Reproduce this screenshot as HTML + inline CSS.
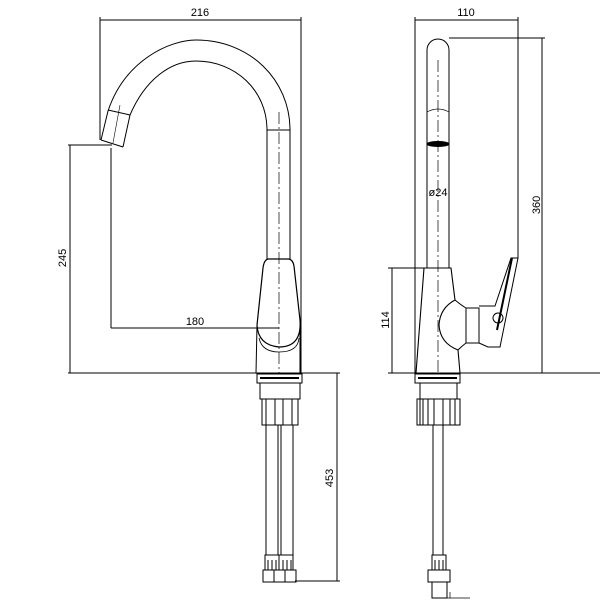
<!DOCTYPE html>
<html><head><style>body{margin:0;background:#fff}svg{display:block}</style></head><body>
<svg width="600" height="600" viewBox="0 0 600 600" xmlns="http://www.w3.org/2000/svg" font-family="Liberation Sans, sans-serif" font-size="11" fill="none" stroke="#000" stroke-width="1">
<line x1="68" y1="373" x2="340" y2="373"/>
<line x1="388" y1="373" x2="600" y2="373"/>
<!-- LEFT VIEW dims -->
<line x1="100" y1="20" x2="301" y2="20"/>
<line x1="100" y1="17" x2="100" y2="140"/>
<line x1="301" y1="17" x2="301" y2="373"/>
<text x="200" y="16" fill="#000" stroke="none" text-anchor="middle">216</text>
<line x1="68" y1="145" x2="112" y2="145"/>
<line x1="70" y1="145" x2="70" y2="373"/>
<text transform="translate(66,258) rotate(-90)" fill="#000" stroke="none" text-anchor="middle">245</text>
<line x1="111" y1="148" x2="111" y2="328"/>
<line x1="111" y1="328" x2="279" y2="328"/>
<text x="195" y="325" fill="#000" stroke="none" text-anchor="middle">180</text>
<!-- spout -->
<path d="M101,140 L108,111 C125,60 170,40 196,40 C250,40 290,80 290,130 L290,260"/>
<path d="M123,147 L130,115 C145,80 170,61 196,61 C235,61 267,90 267,130 L267,260"/>
<line x1="101" y1="140" x2="123" y2="147"/>
<line x1="108" y1="110" x2="130" y2="115"/>
<line x1="120" y1="105" x2="113" y2="143" stroke-width="0.6"/>
<line x1="267" y1="130" x2="290" y2="130"/>
<line x1="279" y1="112" x2="279" y2="373" stroke-dasharray="12,3,2,3" stroke-width="0.7"/>
<!-- body -->
<path d="M268,259 L289,259 Q293,260 294,266 L300,320 Q302,347 279,347 Q258,345 257,325 L263,268 Q264,260 268,259 Z" stroke-width="1.2"/>
<path d="M259,338 Q262,352 279,352 Q298,352 299,338" stroke-width="0.8"/>
<line x1="257" y1="325" x2="256" y2="373"/>
<line x1="300" y1="320" x2="300" y2="373"/>
<!-- left lower -->
<rect x="257" y="374" width="45" height="9"/>
<line x1="260" y1="378" x2="299" y2="378" stroke-width="2"/>
<rect x="260" y="383" width="40" height="16"/>
<rect x="262" y="399" width="36" height="26"/>
<line x1="266" y1="399" x2="266" y2="425"/><line x1="275" y1="399" x2="275" y2="425"/><line x1="283" y1="399" x2="283" y2="425"/><line x1="292" y1="399" x2="292" y2="425"/>
<rect x="266" y="425" width="12" height="130"/>
<rect x="281" y="425" width="12" height="130"/>
<rect x="265" y="555" width="14" height="15"/><rect x="279" y="555" width="14" height="15"/>
<line x1="268" y1="560" x2="268" y2="570"/><line x1="272" y1="560" x2="272" y2="570"/><line x1="276" y1="560" x2="276" y2="570"/>
<line x1="283" y1="560" x2="283" y2="570"/><line x1="287" y1="560" x2="287" y2="570"/><line x1="291" y1="560" x2="291" y2="570"/>
<rect x="263" y="570" width="33" height="12"/>
<line x1="274" y1="570" x2="274" y2="582"/><line x1="285" y1="570" x2="285" y2="582"/>
<line x1="337" y1="373" x2="337" y2="581"/>
<line x1="295" y1="581" x2="340" y2="581"/>
<text transform="translate(333,478) rotate(-90)" fill="#000" stroke="none" text-anchor="middle">453</text>
<!-- RIGHT VIEW dims -->
<line x1="415" y1="20" x2="518" y2="20"/>
<line x1="415" y1="17" x2="415" y2="373"/>
<line x1="518" y1="17" x2="518" y2="258"/>
<text x="466" y="16" fill="#000" stroke="none" text-anchor="middle">110</text>
<line x1="449" y1="38" x2="545" y2="38"/>
<line x1="542" y1="38" x2="542" y2="373"/>
<text transform="translate(540,205) rotate(-90)" fill="#000" stroke="none" text-anchor="middle">360</text>
<line x1="388" y1="268" x2="427" y2="268"/>
<line x1="392" y1="268" x2="392" y2="373"/>
<text transform="translate(389,320) rotate(-90)" fill="#000" stroke="none" text-anchor="middle">114</text>
<!-- pipe -->
<path d="M427,268 L427,50 A11,11 0 0 1 449,50 L449,268"/>
<path d="M427,112 Q438,106 449,112" stroke-width="0.7"/>
<ellipse cx="438" cy="144" rx="11" ry="2.5" fill="#000"/>
<text x="438" y="196" fill="#000" stroke="none" text-anchor="middle" font-size="11">ø24</text>
<line x1="438" y1="60" x2="438" y2="373" stroke-dasharray="12,3,2,3" stroke-width="0.7"/>
<!-- body -->
<line x1="424" y1="268" x2="416" y2="373" stroke-width="1.1"/>
<path d="M424,268 L451,268 L455,300 Q440,308 439,325 Q440,343 458,350 L460,373" stroke-width="1.1"/>
<path d="M455,300 Q461,305 466,308 L466,343 Q462,346 458,350"/>
<rect x="466" y="308" width="13" height="35"/>
<path d="M479,306 L495,306 L511,258 L518,258 L500,347 L488,347 L479,343"/>
<line x1="512" y1="258" x2="497" y2="330" stroke-width="2"/>
<circle cx="498" cy="318" r="5"/>
<!-- right lower -->
<rect x="415" y="374" width="45" height="9"/>
<line x1="418" y1="378" x2="457" y2="378" stroke-width="2"/>
<rect x="420" y="383" width="37" height="16"/>
<rect x="417" y="399" width="43" height="26"/>
<line x1="420" y1="399" x2="420" y2="425"/><line x1="423" y1="399" x2="423" y2="425"/><line x1="428" y1="399" x2="428" y2="425"/><line x1="434" y1="399" x2="434" y2="425"/><line x1="443" y1="399" x2="443" y2="425"/><line x1="450" y1="399" x2="450" y2="425"/><line x1="455" y1="399" x2="455" y2="425"/>
<rect x="433" y="425" width="10" height="130"/>
<rect x="432" y="555" width="14" height="15"/>
<line x1="435" y1="560" x2="435" y2="570"/><line x1="439" y1="560" x2="439" y2="570"/><line x1="443" y1="560" x2="443" y2="570"/>
<rect x="428" y="570" width="22" height="12"/>
<rect x="432" y="582" width="15" height="16"/>
<line x1="447" y1="598" x2="470" y2="598" stroke-width="0.7"/>
<line x1="450" y1="592" x2="450" y2="598" stroke-width="0.7"/>
</svg>
</body></html>
